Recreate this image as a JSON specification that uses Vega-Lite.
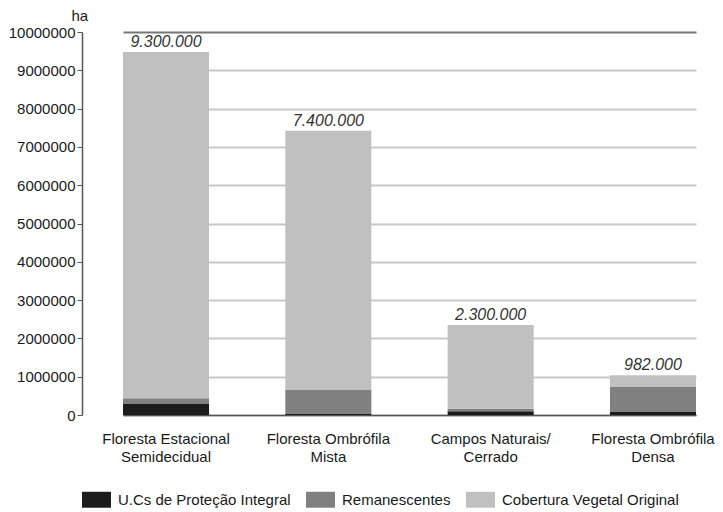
{
  "$schema": "https://vega.github.io/schema/vega-lite/v6.json",
  "width": 641,
  "height": 383,
  "autosize": {"type": "none"},
  "padding": {"left": 82, "top": 32, "right": 0, "bottom": 97},
  "background": "white",
  "config": {
    "view": {"stroke": null},
    "font": "Liberation Sans",
    "axis": {"labelFont": "Liberation Sans", "titleFont": "Liberation Sans"},
    "legend": {"labelFont": "Liberation Sans"}
  },
  "data": {
    "values": [
      {"categoria": "Floresta Estacional\nSemidecidual", "serie": "U.Cs de Proteção Integral", "ha": 290000, "rotulo": "9.300.000"},
      {"categoria": "Floresta Estacional\nSemidecidual", "serie": "Remanescentes", "ha": 150000, "rotulo": "9.300.000"},
      {"categoria": "Floresta Estacional\nSemidecidual", "serie": "Cobertura Vegetal Original", "ha": 9040000, "rotulo": "9.300.000"},
      {"categoria": "Floresta Ombrófila\nMista", "serie": "U.Cs de Proteção Integral", "ha": 40000, "rotulo": "7.400.000"},
      {"categoria": "Floresta Ombrófila\nMista", "serie": "Remanescentes", "ha": 610000, "rotulo": "7.400.000"},
      {"categoria": "Floresta Ombrófila\nMista", "serie": "Cobertura Vegetal Original", "ha": 6770000, "rotulo": "7.400.000"},
      {"categoria": "Campos Naturais/\nCerrado", "serie": "U.Cs de Proteção Integral", "ha": 100000, "rotulo": "2.300.000"},
      {"categoria": "Campos Naturais/\nCerrado", "serie": "Remanescentes", "ha": 60000, "rotulo": "2.300.000"},
      {"categoria": "Campos Naturais/\nCerrado", "serie": "Cobertura Vegetal Original", "ha": 2190000, "rotulo": "2.300.000"},
      {"categoria": "Floresta Ombrófila\nDensa", "serie": "U.Cs de Proteção Integral", "ha": 80000, "rotulo": "982.000"},
      {"categoria": "Floresta Ombrófila\nDensa", "serie": "Remanescentes", "ha": 650000, "rotulo": "982.000"},
      {"categoria": "Floresta Ombrófila\nDensa", "serie": "Cobertura Vegetal Original", "ha": 310000, "rotulo": "982.000"}
    ]
  },
  "encoding": {
    "x": {
      "field": "categoria",
      "type": "nominal",
      "sort": null,
      "scale": {"range": [41, 614], "paddingInner": 0.47, "paddingOuter": 0},
      "axis": {
        "title": null,
        "labelAngle": 0,
        "labelExpr": "split(datum.value, '\\n')",
        "labelFontSize": 15,
        "labelColor": "#1a1a1a",
        "labelLineHeight": 18,
        "labelPadding": 16,
        "labelLimit": 200,
        "ticks": false,
        "domainColor": "#555",
        "domainWidth": 1.5,
        "grid": false
      }
    },
    "y": {
      "field": "ha",
      "type": "quantitative",
      "aggregate": "sum",
      "scale": {"domain": [0, 10000000], "nice": false},
      "axis": {
        "title": "ha",
        "titleAngle": 0,
        "titleAlign": "left",
        "titleBaseline": "alphabetic",
        "titleX": -11,
        "titleY": -12,
        "titleFontSize": 15,
        "titleFontWeight": "normal",
        "titleColor": "#1a1a1a",
        "values": [0, 1000000, 2000000, 3000000, 4000000, 5000000, 6000000, 7000000, 8000000, 9000000, 10000000],
        "format": "d",
        "labelOverlap": false,
        "labelFlush": false,
        "labelFontSize": 15,
        "labelColor": "#1a1a1a",
        "labelPadding": 2,
        "tickSize": 5,
        "tickColor": "#555",
        "domainColor": "#555",
        "domainWidth": 1.5,
        "gridColor": {"condition": {"test": "datum.value == 10000000", "value": "#777"}, "value": "#c8c8c8"},
        "gridWidth": 2
      }
    }
  },
  "layer": [
    {
      "mark": {"type": "bar"},
      "encoding": {
        "color": {
          "field": "serie",
          "type": "nominal",
          "sort": ["U.Cs de Proteção Integral", "Remanescentes", "Cobertura Vegetal Original"],
          "scale": {
            "domain": ["U.Cs de Proteção Integral", "Remanescentes", "Cobertura Vegetal Original"],
            "range": ["#1c1c1c", "#808080", "#c0c0c0"]
          },
          "legend": {
            "title": null,
            "orient": "none",
            "direction": "horizontal",
            "legendX": 0,
            "legendY": 453,
            "symbolType": "M-1,-0.55H1V0.55H-1Z",
            "symbolSize": 841,
            "symbolStrokeWidth": 0,
            "symbolOpacity": 1,
            "labelFontSize": 15,
            "labelLimit": 300,
            "labelColor": "#1a1a1a",
            "columnPadding": 15,
            "labelOffset": 7
          }
        }
      }
    },
    {
      "mark": {"type": "text", "baseline": "bottom", "dy": -2, "fontSize": 16, "fontStyle": "italic", "color": "#333"},
      "encoding": {
        "text": {"field": "rotulo"}
      }
    }
  ]
}
